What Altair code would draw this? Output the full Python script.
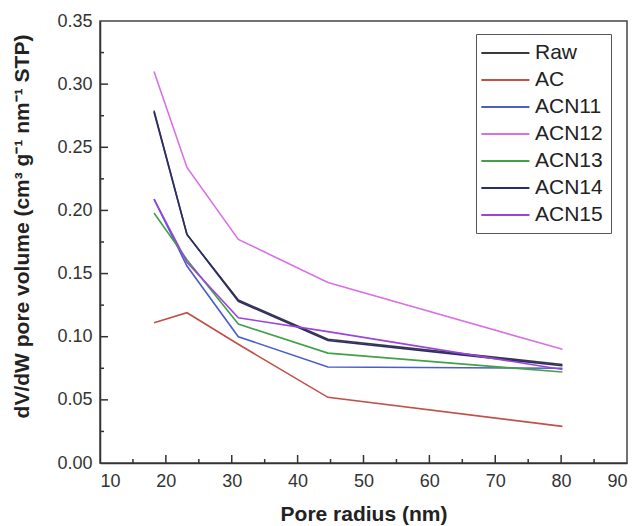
import altair as alt
import pandas as pd

radius = [18.2, 23.2, 31.0, 44.6, 80.2]
series = ["Raw", "AC", "ACN11", "ACN12", "ACN13", "ACN14", "ACN15"]
raw = [0.279, 0.181, 0.129, 0.098, 0.078]
ac = [0.111, 0.119, 0.094, 0.052, 0.029]
acn11 = [0.209, 0.156, 0.100, 0.076, 0.075]
acn12 = [0.310, 0.234, 0.177, 0.143, 0.090]
acn13 = [0.198, 0.161, 0.110, 0.087, 0.072]
acn14 = [0.278, 0.181, 0.128, 0.097, 0.077]
acn15 = [0.209, 0.159, 0.115, 0.104, 0.074]
colors = ["#3a3a3a", "#c25048", "#4a5ec4", "#d872e4", "#44a048", "#2c2c6c", "#9a44dc"]

x_major = [20, 30, 40, 50, 60, 70, 80]
x_minor = [15, 25, 35, 45, 55, 65, 75, 85]
y_major = [0.05, 0.10, 0.15, 0.20, 0.25, 0.30]
y_minor = [0.025, 0.075, 0.125, 0.175, 0.225, 0.275, 0.325]

vals = [raw, ac, acn11, acn12, acn13, acn14, acn15]
rows = []
for s, v in zip(series, vals):
    for i, (r, y) in enumerate(zip(radius, v)):
        rows.append({"series": s, "radius": r, "value": y, "order": i})
df = pd.DataFrame(rows)

W, H = 527, 442
FONT = "Liberation Sans"

xs = alt.Scale(domain=[10, 90], nice=False)
ys = alt.Scale(domain=[0, 0.35], nice=False)

lines = alt.Chart(df).mark_line(strokeWidth=1.6).encode(
    x=alt.X("radius:Q", scale=xs,
            axis=alt.Axis(title="Pore radius (nm)", values=[10, 20, 30, 40, 50, 60, 70, 80, 90],
                          format="d", ticks=False, labelPadding=9, titlePadding=13,
                          grid=False)),
    y=alt.Y("value:Q", scale=ys,
            axis=alt.Axis(title="dV/dW pore volume (cm³ g⁻¹ nm⁻¹ STP)",
                          values=[0, 0.05, 0.10, 0.15, 0.20, 0.25, 0.30, 0.35],
                          format=".2f", ticks=False, labelPadding=8, grid=False,
                          titleX=-78, titleY=205, titleAngle=270,
                          titleAlign="center", titleBaseline="middle")),
    color=alt.Color("series:N", scale=alt.Scale(domain=series, range=colors),
                    sort=series,
                    legend=alt.Legend(title=None, orient="none", legendX=376, legendY=13,
                                      symbolType="M-1.42,0H3.58", symbolSize=370,
                                      symbolStrokeWidth=1.8, labelFontSize=21,
                                      labelFont=FONT, labelColor="#222",
                                      strokeColor="#555", padding=8, rowPadding=6,
                                      labelOffset=29)),
    order="order:Q",
    detail="series:N",
)

xmaj = alt.Chart(pd.DataFrame({"t": x_major})).mark_rule(color="#333", strokeWidth=1.5).encode(
    x=alt.X("t:Q", scale=xs), y=alt.value(H), y2=alt.value(H - 8))
xmin = alt.Chart(pd.DataFrame({"t": x_minor})).mark_rule(color="#333", strokeWidth=1.5).encode(
    x=alt.X("t:Q", scale=xs), y=alt.value(H), y2=alt.value(H - 4))
ymaj = alt.Chart(pd.DataFrame({"t": y_major})).mark_rule(color="#333", strokeWidth=1.5).encode(
    y=alt.Y("t:Q", scale=ys), x=alt.value(0), x2=alt.value(8))
ymin = alt.Chart(pd.DataFrame({"t": y_minor})).mark_rule(color="#333", strokeWidth=1.5).encode(
    y=alt.Y("t:Q", scale=ys), x=alt.value(0), x2=alt.value(4))

chart = alt.layer(lines, xmaj, xmin, ymaj, ymin).properties(
    width=W, height=H,
    autosize=alt.AutoSizeParams(type="none"),
    padding={"left": 92, "top": 13, "right": 5, "bottom": 70},
).configure_view(stroke="#444", strokeWidth=1.5).configure_axis(
    domainColor="#333", domainWidth=1.5,
    labelFont=FONT, labelFontSize=18, labelColor="#333",
    titleFont=FONT, titleFontSize=21, titleFontWeight="bold", titleColor="#222",
)

chart.save("out.html", embed_options={"renderer": "svg", "actions": False})
